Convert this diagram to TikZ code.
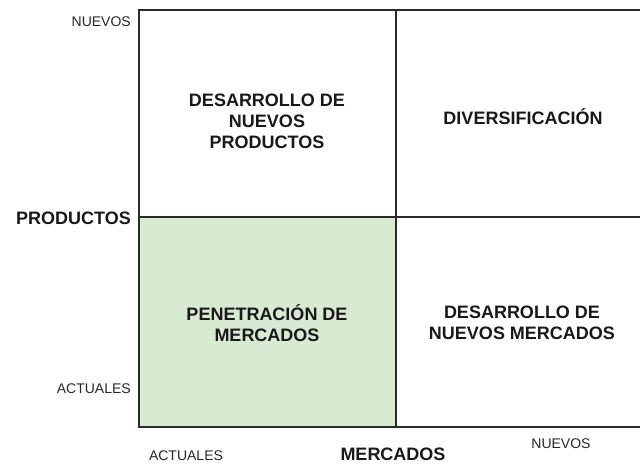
\documentclass[tikz,border=0pt]{standalone}
\usepackage{fontspec}
\setmainfont{Liberation Sans}
\usetikzlibrary{positioning}
\definecolor{verdeclaro}{HTML}{D9EAD3}
\definecolor{linea}{HTML}{2B2B2B}
\tikzset{
  eje/.style={font=\fontsize{14}{16}\selectfont, text=black!85, inner sep=0pt},
  titulo/.style={font=\fontsize{18}{21}\selectfont\bfseries, text=black!90, inner sep=0pt},
  cuadrante/.style={titulo, align=center},
  marco/.style={draw=linea, line width=1.6pt},
}

\begin{document}
\begin{tikzpicture}[x=1pt,y=-1pt]
  \useasboundingbox (0,0) rectangle (640,464);

  \fill[verdeclaro] (139,217) rectangle (396,427); % Penetracion
  \draw[marco] (139,10) rectangle (650,427);      % Outer frame
  \draw[marco] (396,10) -- (396,427);             % Vertical divider
  \draw[marco] (139,217) -- (650,217);            % Horizontal divider

  % Axis labels
  \node[eje, anchor=east] (pnuevos) at (131,22) {NUEVOS};
  \node[titulo, anchor=east] (productos) at (131,218) {PRODUCTOS};
  \node[eje, anchor=east] (pactuales) at (131,389) {ACTUALES};
  \node[eje] (mactuales) at (186,456) {ACTUALES};
  \node[titulo] (mercados) at (393,454) {MERCADOS};
  \node[eje] (mnuevos) at (561,444) {NUEVOS};

  % Quadrants
  \node[cuadrante] (dnp) at (267,121) {DESARROLLO DE\\NUEVOS\\PRODUCTOS};
  \node[cuadrante] (div) at (523,117) {DIVERSIFICACIÓN};
  \node[cuadrante] (pen) at (267,323) {PENETRACIÓN DE\\MERCADOS};
  \node[cuadrante] (dnm) at (522,323) {DESARROLLO DE\\NUEVOS MERCADOS};
\end{tikzpicture}
\end{document}
